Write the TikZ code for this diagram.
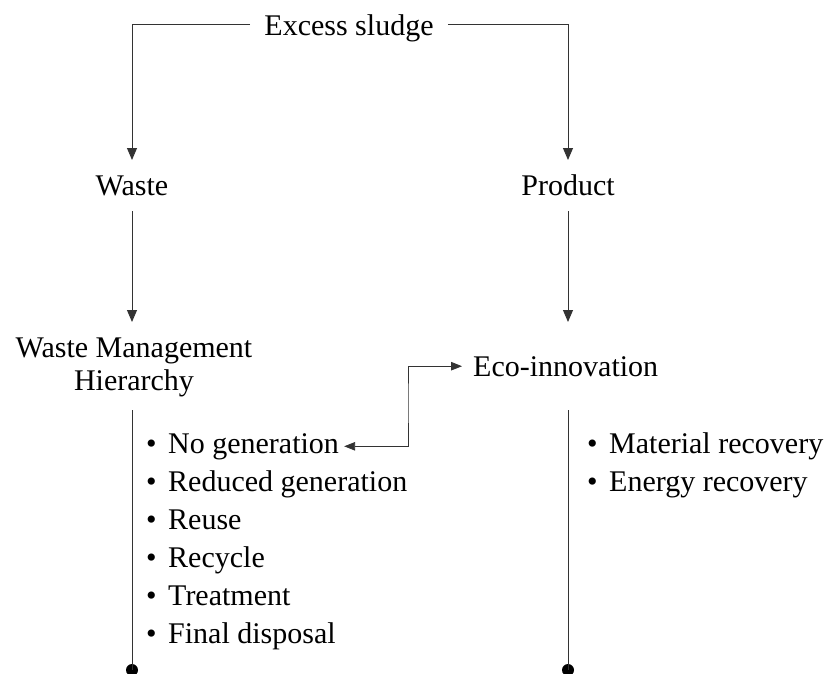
\documentclass[tikz,border=0pt]{standalone}
\usepackage{fontspec}
\setmainfont{Liberation Serif}
\usetikzlibrary{arrows.meta,calc}
\begin{document}
\begin{tikzpicture}[x=1pt,y=-1pt,
  lbl/.style={inner sep=0pt, font=\fontsize{30}{33}\selectfont},
  conn/.style={line width=0.9pt, draw=black!80},
  arr/.style={conn, -{Triangle[length=12pt,width=10pt]}},
  darr/.style={conn, {Triangle[length=11pt,width=8.5pt]}-{Triangle[length=11pt,width=8.5pt]}},
  enddot/.style={circle, fill=black, inner sep=0pt, minimum size=12pt}]
\useasboundingbox (0,0) rectangle (831,673);

\node[lbl, anchor=base] (es) at (349,35) {Excess sludge};
\node[lbl, anchor=base] (waste) at (132,195) {Waste};
\node[lbl, anchor=base] (prod) at (568,195) {Product};
\node[lbl, anchor=north, align=center] (wmh) at (134,338) {Waste Management\\Hierarchy};
\node[lbl, anchor=base west] (eco) at (473,376) {Eco-innovation};

% left list
\node[lbl, anchor=base west] (i1) at (146,453) {\textbullet\hspace{11.5pt}No generation};
\node[lbl, anchor=base west] (i2) at (146,491) {\textbullet\hspace{11.5pt}Reduced generation};
\node[lbl, anchor=base west] (i3) at (146,529) {\textbullet\hspace{11.5pt}Reuse};
\node[lbl, anchor=base west] (i4) at (146,567) {\textbullet\hspace{11.5pt}Recycle};
\node[lbl, anchor=base west] (i5) at (146,605) {\textbullet\hspace{11.5pt}Treatment};
\node[lbl, anchor=base west] (i6) at (146,643) {\textbullet\hspace{11.5pt}Final disposal};
% right list
\node[lbl, anchor=base west] (r1) at (587,453) {\textbullet\hspace{11.5pt}Material recovery};
\node[lbl, anchor=base west] (r2) at (587,491) {\textbullet\hspace{11.5pt}Energy recovery};

% dots
\node[enddot] (d1) at (132,670) {};
\node[enddot] (d2) at (568,670) {};
\coordinate (t1) at (132,410);
\coordinate (t2) at (568,410);
\coordinate (bend) at (408,400);

% connectors
\draw[arr] ([xshift=-14pt,yshift=11pt]es.base west) -| ([yshift=35pt]waste.base);
\draw[arr] ([xshift=14pt,yshift=11pt]es.base east) -| ([yshift=35pt]prod.base);
\draw[arr] ([yshift=-16pt]waste.base) -- ([yshift=-127pt]waste.base);
\draw[arr] ([yshift=-16pt]prod.base) -- ([yshift=-127pt]prod.base);
\draw[conn] (t1) -- (d1.center);
\draw[conn] (t2) -- (d2.center);
\draw[darr] ([xshift=5pt]i1.east) -| (bend) |- ([xshift=-11pt]eco.west);
\end{tikzpicture}
\end{document}
